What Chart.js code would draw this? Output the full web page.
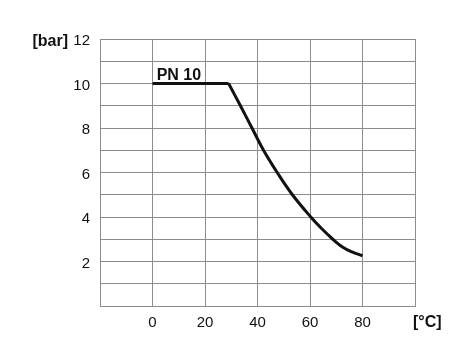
<!DOCTYPE html>
<html>
<head>
<meta charset="utf-8">
<script src="https://cdn.jsdelivr.net/npm/chart.js@4.4.1/dist/chart.umd.min.js"></script>
<style>
  html, body { margin: 0; padding: 0; background: #fff; }
  #wrap { width: 475px; height: 344px; }
</style>
</head>
<body>
<div id="wrap"><canvas id="chart" width="475" height="344"></canvas></div>
<script>
// temperature [°C] vs pressure [bar]
const flatTemps = [0, 29];
const flatBars = [10, 10];
const curveTemps = [29, 33.5, 37.9, 42.3, 47.5, 53.3, 60.3, 64.5, 68.7, 72.5, 76, 80];
const curveBars = [10, 9, 8, 7, 6, 5, 4, 3.47, 3, 2.64, 2.43, 2.26];
const xTicks = [0, 20, 40, 60, 80];
const yTicks = [2, 4, 6, 8, 10, 12];

const toPoints = (xs, ys) => xs.map((x, i) => ({ x: x, y: ys[i] }));

const gridColor = '#8c8c8c';
const tickFont = { family: "'Liberation Sans', Arial, sans-serif", size: 15 };

const extraLabels = {
  id: 'extraLabels',
  afterDraw(chart) {
    const ctx = chart.ctx;
    const y = chart.scales.y;
    const x = chart.scales.x;
    ctx.save();
    ctx.fillStyle = '#111';
    ctx.font = "bold 16px 'Liberation Sans', Arial, sans-serif";
    ctx.textBaseline = 'alphabetic';
    ctx.textAlign = 'right';
    ctx.fillText('[bar]', 68, y.getPixelForValue(12) + 7);
    ctx.textAlign = 'left';
    ctx.fillText('[°C]', 413, 327);
    ctx.fillText('PN 10', x.getPixelForValue(1.6), y.getPixelForValue(10) - 4);
    ctx.restore();
  },
};

new Chart(document.getElementById('chart'), {
  type: 'line',
  plugins: [extraLabels],
  data: {
    datasets: [
      {
        data: toPoints(flatTemps, flatBars),
        borderColor: '#111',
        borderWidth: 3,
        pointRadius: 0,
        tension: 0,
      },
      {
        data: toPoints(curveTemps, curveBars),
        borderColor: '#111',
        borderWidth: 3,
        pointRadius: 0,
        tension: 0.4,
      },
    ],
  },
  options: {
    responsive: false,
    animation: false,
    layout: { padding: { left: 0, right: 60, top: 39, bottom: 0 } },
    plugins: {
      legend: { display: false },
      tooltip: { enabled: false },
    },
    scales: {
      x: {
        type: 'linear',
        min: -20,
        max: 100,
        afterFit: (scale) => { scale.height = 38; },
        grid: { color: gridColor, lineWidth: 1, drawTicks: false },
        border: { color: gridColor, width: 1 },
        ticks: {
          stepSize: 20,
          padding: 8,
          color: '#111',
          font: tickFont,
          maxRotation: 0,
          callback: (v) => (xTicks.includes(v) ? String(v) : ''),
        },
      },
      y: {
        min: 0,
        max: 12,
        afterFit: (scale) => { scale.width = 100; },
        grid: { color: gridColor, lineWidth: 1, drawTicks: false },
        border: { color: gridColor, width: 1 },
        ticks: {
          stepSize: 1,
          padding: 10,
          labelOffset: 2,
          color: '#111',
          font: tickFont,
          autoSkip: false,
          callback: (v) => (yTicks.includes(v) ? String(v) : ''),
        },
      },
    },
  },
});
</script>
</body>
</html>
